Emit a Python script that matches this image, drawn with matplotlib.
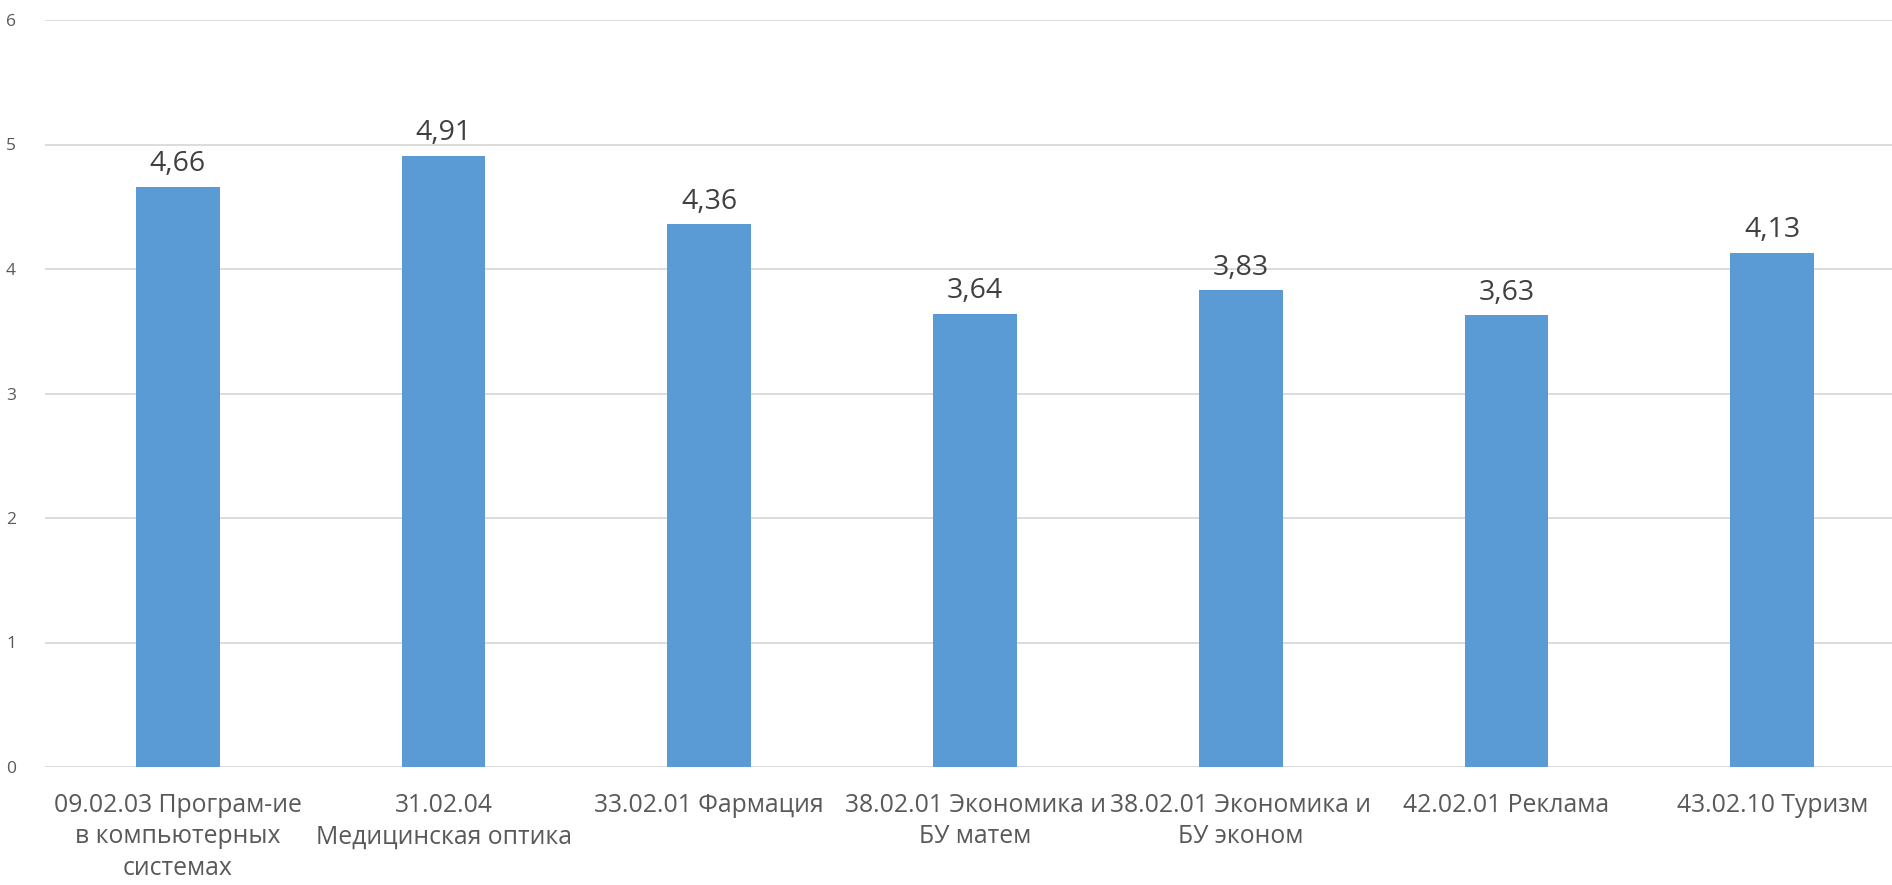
import matplotlib.pyplot as plt

categories = [
    "09.02.03 Програм-ие\nв компьютерных\nсистемах",
    "31.02.04\nМедицинская оптика",
    "33.02.01 Фармация",
    "38.02.01 Экономика и\nБУ матем",
    "38.02.01 Экономика и\nБУ эконом",
    "42.02.01 Реклама",
    "43.02.10 Туризм",
]
values = [4.66, 4.91, 4.36, 3.64, 3.83, 3.63, 4.13]
value_labels = ["4,66", "4,91", "4,36", "3,64", "3,83", "3,63", "4,13"]
y_ticks = [0, 1, 2, 3, 4, 5, 6]

plt.rcParams['font.family'] = ['Open Sans', 'DejaVu Sans']

fig = plt.figure(figsize=(18.92, 8.85), dpi=100)
ax = fig.add_axes([45 / 1892, 118 / 885, 1860 / 1892, 747 / 885])

x = range(len(categories))
bars = ax.bar(x, values, width=0.315, color='#5B9BD5', zorder=3)

for b, lab in zip(bars, value_labels):
    ax.annotate(lab, (b.get_x() + b.get_width() / 2, b.get_height()),
                xytext=(0, 6), textcoords='offset points',
                ha='center', va='bottom', fontsize=20.5, color='#404040')

ax.set_xlim(-0.5, len(categories) - 0.5)
ax.set_ylim(0, 6)
ax.set_yticks(y_ticks)
ax.set_yticklabels([str(t) for t in y_ticks], fontsize=12.5, color='#595959')
ax.set_xticks(list(x))
ax.set_xticklabels(categories, fontsize=17.8, color='#595959', linespacing=1.32)
ax.tick_params(axis='both', length=0)
ax.tick_params(axis='x', pad=19)
ax.tick_params(axis='y', pad=28)
for lbl in ax.get_yticklabels():
    lbl.set_horizontalalignment('left')

ax.grid(axis='y', color='#D9D9D9', linewidth=1.3, zorder=0)
for s in ax.spines.values():
    s.set_visible(False)

fig.savefig('out.png', dpi=100)
